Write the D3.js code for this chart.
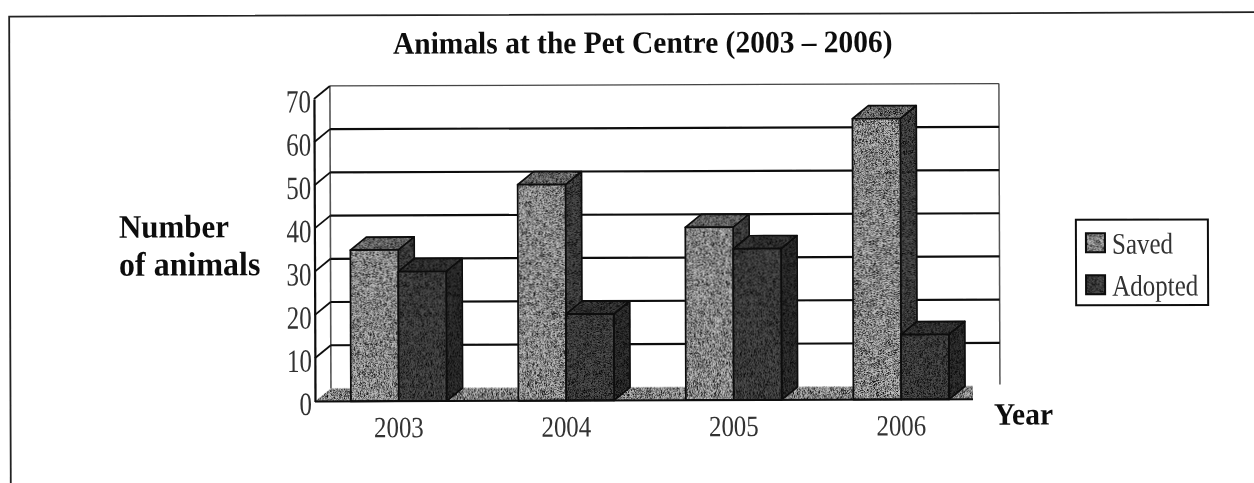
<!DOCTYPE html>
<html><head><meta charset="utf-8">
<script src="https://cdn.jsdelivr.net/npm/d3@7"></script>
<style>html,body{margin:0;padding:0;background:#fff;overflow:hidden}svg{display:block}</style>
</head><body>
<svg id="c" width="1254" height="483"></svg>
<script>
const years = ["2003","2004","2005","2006"];
const seriesNames = ["Saved","Adopted"];
const saved = [35,50,40,65];
const adopted = [30,20,35,15];
const yTicks = [0,10,20,30,40,50,60,70];
const titleText = "Animals at the Pet Centre (2003 – 2006)";
const faceColors = {
  Saved:{front:"#bdbdbd",side:"#505050",top:"#8a8a8a"},
  Adopted:{front:"#505050",side:"#363636",top:"#404040"}
};

const svg = d3.select("#c");
const defs = svg.append("defs");
const grain = defs.append("filter").attr("id","grain")
  .attr("x",0).attr("y",0).attr("width",1).attr("height",1)
  .attr("color-interpolation-filters","sRGB");
grain.append("feTurbulence").attr("type","fractalNoise").attr("baseFrequency","1.7 1.9")
  .attr("numOctaves",1).attr("seed",11).attr("result","n");
grain.append("feColorMatrix").attr("in","n").attr("type","matrix")
  .attr("values","0 0 0 0 0  0 0 0 0 0  0 0 0 0 0  2.6 0 0 0 -1.0").attr("result","d");
grain.append("feComposite").attr("in","d").attr("in2","SourceAlpha").attr("operator","in").attr("result","dc");
const gm = grain.append("feMerge");
gm.append("feMergeNode").attr("in","SourceGraphic");
gm.append("feMergeNode").attr("in","dc");
defs.append("filter").attr("id","scan").attr("filterUnits","userSpaceOnUse")
  .attr("x",-20).attr("y",-20).attr("width",1300).attr("height",530)
  .append("feGaussianBlur").attr("stdDeviation",0.35);

const left=315, base=401.5, top70=99, depthX=16, depthY=13, rightWall=1000, floorEnd=973;
const x = d3.scaleBand().domain(years).range([left,985]);
const xs = d3.scaleBand().domain(seriesNames).range([0,x.bandwidth()]).paddingInner(0).paddingOuter(0.75);
const y = d3.scaleLinear().domain([0,70]).range([base,top70]);

const root = svg.append("g").attr("filter","url(#scan)");
const g = root.append("g").attr("transform",`rotate(-0.2 ${left} ${base})`);

// outer frame (open at right and bottom)
g.append("path").attr("d",d3.line()([[10.5,500],[10.5,15.5],[1300,15.5]]))
  .attr("fill","none").attr("stroke","#222").attr("stroke-width",1.8);

// back wall, floor
const backL = left+depthX, backBase = base-depthY;
g.append("path").attr("d",d3.line()([[left,base],[backL,backBase],[floorEnd,backBase],[floorEnd,base]])+"Z")
  .attr("fill","#b5b5b5").attr("filter","url(#grain)");
g.append("line").attr("x1",backL).attr("x2",backL).attr("y1",y(70)-depthY).attr("y2",backBase)
  .attr("stroke","#555").attr("stroke-width",1.6);
g.append("line").attr("x1",rightWall).attr("x2",rightWall).attr("y1",y(70)-depthY).attr("y2",backBase-1.5)
  .attr("stroke","#555").attr("stroke-width",1.5);

// grid lines and depth ticks
g.append("g").selectAll("line").data(yTicks.slice(1)).join("line")
  .attr("x1",backL).attr("x2",rightWall).attr("y1",d=>y(d)-depthY).attr("y2",d=>y(d)-depthY)
  .attr("stroke",d=>d===70?"#444":"#111").attr("stroke-width",d=>d===70?1.2:2.2);
g.append("g").selectAll("line").data(yTicks.slice(1)).join("line")
  .attr("x1",left).attr("x2",backL).attr("y1",d=>y(d)).attr("y2",d=>y(d)-depthY)
  .attr("stroke","#111").attr("stroke-width",1.8);

// bars
const rows = years.flatMap((yr,i)=>[
  {yr,s:"Saved",v:saved[i]},{yr,s:"Adopted",v:adopted[i]}
]);
const line = d3.line();
const bars = g.append("g").selectAll("g").data(rows).join("g");
function face(sel,cls,pts){
  sel.append("path").attr("d",d=>line(pts(d))+"Z")
    .attr("fill",d=>faceColors[d.s][cls]).attr("filter","url(#grain)");
  sel.append("path").attr("d",d=>line(pts(d))+"Z")
    .attr("fill","none").attr("stroke","#0a0a0a").attr("stroke-width",1.7).attr("stroke-linejoin","round");
}
const bx0=d=>x(d.yr)+xs(d.s), bx1=d=>bx0(d)+xs.bandwidth(), byT=d=>y(d.v);
face(bars,"side",d=>[[bx1(d),base],[bx1(d)+depthX,base-depthY],[bx1(d)+depthX,byT(d)-depthY],[bx1(d),byT(d)]]);
face(bars,"top",d=>[[bx0(d),byT(d)],[bx0(d)+depthX,byT(d)-depthY],[bx1(d)+depthX,byT(d)-depthY],[bx1(d),byT(d)]]);
face(bars,"front",d=>[[bx0(d),base],[bx0(d),byT(d)],[bx1(d),byT(d)],[bx1(d),base]]);

// front axes
const yAxis = d3.axisLeft(y).tickValues(yTicks).tickSize(0).tickPadding(3);
const yG = g.append("g").attr("transform",`translate(${left},0)`).call(yAxis);
yG.select(".domain").attr("stroke","#0a0a0a").attr("stroke-width",2.2);
yG.selectAll("text").attr("x",null).attr("y",null).attr("dy",null)
  .attr("transform","translate(-3,13) scale(1,1.3)")
  .attr("text-anchor","end").style("font","25px 'Liberation Serif'").attr("fill","#333");

const xAxis = d3.axisBottom(x).tickSize(0);
const xG = g.append("g").attr("transform",`translate(0,${base})`).call(xAxis);
xG.select(".domain").remove();
xG.selectAll("text").attr("y",null).attr("dy",null)
  .attr("transform","translate(0,36) scale(1,1.18)")
  .style("font","25px 'Liberation Serif'").attr("fill","#333");
g.append("line").attr("x1",left).attr("x2",floorEnd).attr("y1",base).attr("y2",base)
  .attr("stroke","#0a0a0a").attr("stroke-width",2);

// titles
const bold = (t,px,py,fs,anchor)=>g.append("text").text(t).attr("transform",`translate(${px},${py}) scale(1,1.06)`)
  .attr("text-anchor",anchor||"start").attr("fill","#111")
  .style("font",`bold ${fs}px 'Liberation Serif'`);
bold(titleText,644,54,29.5,"middle");
bold("Number",119.5,237,31);
bold("of animals",119.5,275,32);
bold("Year",994,427,29.5);

// legend
const lg = g.append("g");
lg.append("rect").attr("x",1076.5).attr("y",222.5).attr("width",132).attr("height",85.5)
  .attr("fill","#fff").attr("stroke","#111").attr("stroke-width",2);
const ly = d3.scalePoint().domain(seriesNames).range([245.5,287.5]);
const items = lg.selectAll("g").data(seriesNames).join("g");
items.append("rect").attr("x",1086.5).attr("y",d=>ly(d)-9.5).attr("width",19).attr("height",19)
  .attr("fill",d=>faceColors[d].front).attr("filter","url(#grain)");
items.append("rect").attr("x",1086.5).attr("y",d=>ly(d)-9.5).attr("width",19).attr("height",19)
  .attr("fill","none").attr("stroke","#0a0a0a").attr("stroke-width",2);
items.append("text").text(d=>d)
  .attr("transform",d=>`translate(1112.5,${ly(d)+11}) scale(1,1.2)`)
  .style("font","25px 'Liberation Serif'").attr("fill","#333");
</script>
</body></html>
